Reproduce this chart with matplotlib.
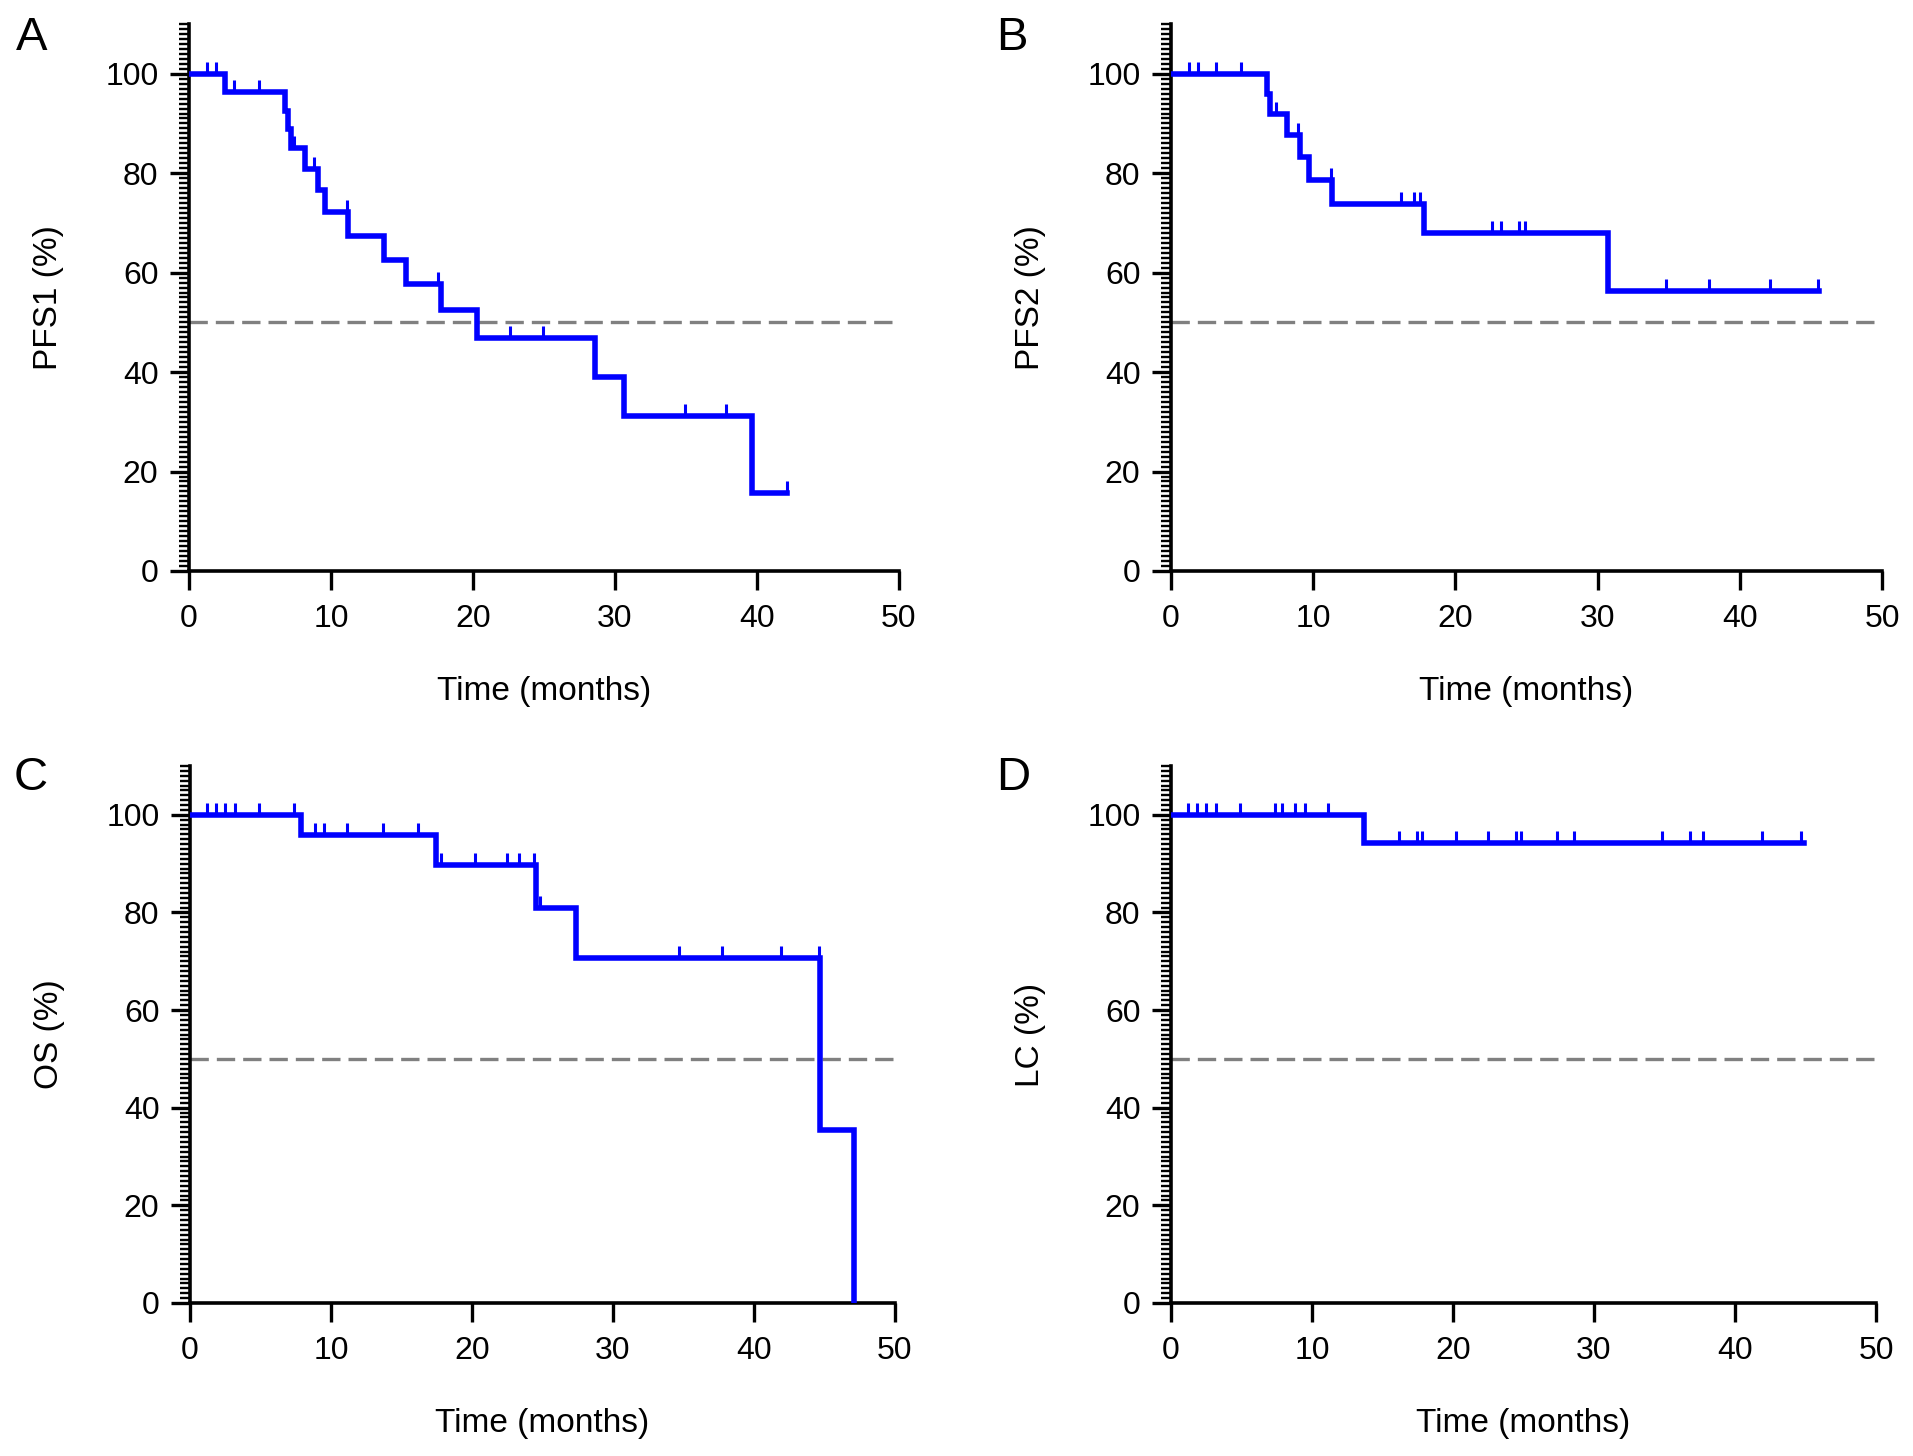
import matplotlib
matplotlib.use("Agg")
import matplotlib.pyplot as plt
import numpy as np
from matplotlib.path import Path
from matplotlib.ticker import MultipleLocator

plt.rcParams["font.family"] = ["Liberation Sans", "DejaVu Sans"]

# ---- data ----
# event times (months) and survival (%) after each step
pfs1_times = [0, 2.56, 6.77, 6.95, 7.2, 8.17, 9.05, 9.57, 11.22, 13.71, 15.29, 17.74, 20.27, 28.58, 30.61, 39.66]
pfs1_surv = [100, 96.3, 92.6, 88.9, 85.0, 80.8, 76.6, 72.1, 67.4, 62.6, 57.7, 52.5, 46.8, 39.0, 31.2, 15.6]
pfs1_censor = [1.26, 1.93, 3.2, 4.9, 7.4, 8.8, 11.15, 17.5, 22.6, 24.9, 34.9, 37.8, 42.1]
pfs1_end = 42.11

pfs2_times = [0, 6.76, 6.95, 8.17, 9.05, 9.67, 11.3, 17.8, 30.7]
pfs2_surv = [100, 96.0, 92.0, 87.6, 83.2, 78.6, 73.9, 67.9, 56.3]
pfs2_censor = [1.26, 1.93, 3.16, 4.9, 7.4, 8.9, 11.25, 16.2, 17.1, 17.5, 22.6, 23.2, 24.5, 24.9,
               34.8, 37.8, 42.1, 45.5]
pfs2_end = 45.6

os_times = [0, 7.9, 17.45, 24.55, 27.4, 44.7, 47.1]
os_surv = [100, 95.8, 89.7, 80.9, 70.6, 35.4, 0]
os_censor = [1.24, 1.84, 2.5, 3.2, 4.9, 7.4, 8.85, 9.5, 11.15, 13.7, 16.2, 17.8, 20.2, 22.5,
             23.35, 24.4, 24.8, 34.7, 37.7, 41.9, 44.6]
os_end = 47.1

lc_times = [0, 13.66]
lc_surv = [100, 94.2]
lc_censor = [1.24, 1.84, 2.5, 3.2, 4.9, 7.35, 7.9, 8.8, 9.5, 11.1, 16.2, 17.45, 17.8, 20.2, 22.5,
             24.5, 24.8, 27.4, 28.6, 34.8, 36.8, 37.7, 41.9, 44.7]
lc_end = 44.9

panels = [
    ("A", "PFS1 (%)", pfs1_times, pfs1_surv, pfs1_censor, pfs1_end),
    ("B", "PFS2 (%)", pfs2_times, pfs2_surv, pfs2_censor, pfs2_end),
    ("C", "OS (%)", os_times, os_surv, os_censor, os_end),
    ("D", "LC (%)", lc_times, lc_surv, lc_censor, lc_end),
]

W, H = 1913, 1456
# axes boxes in pixels: left, right, top (y=110), bottom (y=0)
boxes = [(189, 899, 24, 571), (1171, 1882, 24, 571),
         (190, 895, 766, 1303), (1171, 1876, 766, 1303)]
letter_pos = [(16, 50), (996, 50), (14, 790), (996, 790)]

BLUE = "#0000FF"
censor_mark = Path([(0, 0), (0, 1)])

fig = plt.figure(figsize=(W / 100, H / 100), dpi=100)

for (letter, ylabel, times, surv, censor, end), (l, r, t, b), (lx, ly) in zip(panels, boxes, letter_pos):
    ax = fig.add_axes([l / W, 1 - b / H, (r - l) / W, (b - t) / H])

    ax.plot([0, 50], [50, 50], color="#808080", lw=2.4, dashes=(5.5, 2.4), zorder=1)

    xs = list(times) + [end]
    ys = list(surv) + [surv[-1]]
    ax.step(xs, ys, where="post", color=BLUE, lw=4.0, solid_joinstyle="miter", zorder=3)

    idx = np.searchsorted(times, censor, side="right") - 1
    cy = np.asarray(surv)[idx]
    ax.plot(censor, cy, linestyle="none", marker=censor_mark, markersize=17,
            markeredgewidth=2.2, color=BLUE, zorder=3)

    ax.set_xlim(0, 50)
    ax.set_ylim(0, 110)
    ax.set_xticks(range(0, 51, 10))
    ax.set_yticks(range(0, 101, 20))
    ax.yaxis.set_minor_locator(MultipleLocator(1))

    for side in ("top", "right"):
        ax.spines[side].set_visible(False)
    for side in ("left", "bottom"):
        ax.spines[side].set_linewidth(2.6)
    ax.spines["bottom"].set_capstyle("projecting")

    ax.tick_params(axis="both", which="major", length=14, width=2.4, labelsize=23, pad=8)
    ax.tick_params(axis="y", which="minor", length=7, width=1.7)
    ax.tick_params(axis="x", which="major", pad=10)

    ax.set_xlabel("Time (months)", fontsize=24, labelpad=30)
    ax.set_ylabel(ylabel, fontsize=24, labelpad=30)
    ax.patch.set_visible(False)

    fig.text(lx / W, 1 - ly / H, letter, fontsize=34, ha="left", va="baseline")

fig.savefig("out.png", dpi=100)
